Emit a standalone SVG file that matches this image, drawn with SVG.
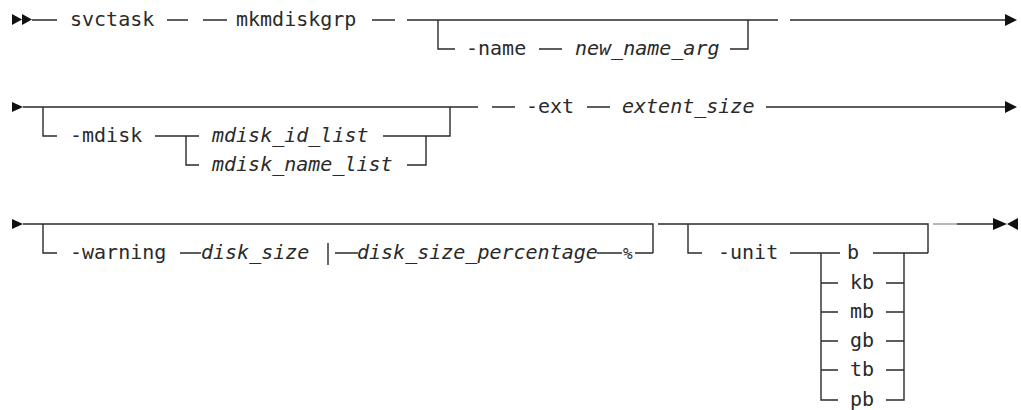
<svg xmlns="http://www.w3.org/2000/svg" width="1021" height="410" viewBox="0 0 1021 410">
  <style>
    .t { font-family: "DejaVu Sans Mono", "Liberation Mono", monospace; font-size: 20px; fill: #2a2a2a; }
    .i { font-style: italic; }
    .ln { fill: none; stroke: #2a2a2a; stroke-width: 1.4; }
    .lt { fill: none; stroke: #999; stroke-width: 1.4; }
    .ah { fill: #111; }
  </style>
  <rect width="1021" height="410" fill="#fff"/>

  <!-- connectors -->
  <g id="connectors">
    <!-- row 1 -->
    <path class="ah" d="M12,14 L22,19.5 L12,25 Z M22,14 L32,19.5 L22,25 Z"/>
    <path class="ln" d="M32,20 H57 M167,20 H188 M203,20 H227 M372,20 H395 M407,20 H778 M790,20 H1006"/>
    <path class="ah" d="M1005,14 L1017,20 L1005,26 Z"/>
    <path class="ln" d="M438,20 V49 H455 M539,49 H562 M730,49 H748 V20"/>

    <!-- row 2 -->
    <path class="ah" d="M12,102 L23,107 L12,112 Z"/>
    <path class="ln" d="M23,107 H478 M492,107 H515 M587,107 H610 M766,107 H1006"/>
    <path class="ah" d="M1005,101 L1017,107 L1005,113 Z"/>
    <path class="ln" d="M43,107 V136 H57 M155,136 H199 M186,136 V165 H199 M383,136 H450 V107 M407,165 H426 V136"/>

    <!-- row 3 -->
    <path class="ah" d="M12,219 L23,224 L12,229 Z"/>
    <path class="ln" d="M23,224 H653 V253 M658,224 H928 V253"/>
    <path class="ln" d="M43,224 V253 H57 M180,253 H201 M328,243 V265 M335,253 H358 M597,253 H622 M635,253 H653"/>
    <path class="ln" d="M688,224 V253 H702 M790,253 H840 M821,253 V400 H838 M873,253 H928 M904,253 V400 H886"/>
    <path class="ln" d="M821,283 H838 M821,312 H838 M821,341 H838 M821,370 H838 M886,283 H904 M886,312 H904 M886,341 H904 M886,370 H904"/>
    <path class="lt" d="M933,224 H957"/>
    <path class="ln" d="M957,224 H994"/>
    <path class="ah" d="M993,218 L1007,224 L993,230 Z M1018,218 L1007,224 L1018,230 Z"/>
  </g>

  <!-- row 1 nodes -->
  <g id="svctask"><text class="t" x="70" y="26">svctask</text></g>
  <g id="mkmdiskgrp"><text class="t" x="236" y="26">mkmdiskgrp</text></g>
  <g id="name"><text class="t" x="466" y="55">-name</text></g>
  <g id="new_name_arg"><text class="t i" x="575" y="55">new_name_arg</text></g>

  <!-- row 2 nodes -->
  <g id="mdisk"><text class="t" x="70" y="142">-mdisk</text></g>
  <g id="mdisk_id_list"><text class="t i" x="212" y="142">mdisk_id_list</text></g>
  <g id="mdisk_name_list"><text class="t i" x="212" y="171">mdisk_name_list</text></g>
  <g id="ext"><text class="t" x="526" y="113">-ext</text></g>
  <g id="extent_size"><text class="t i" x="622" y="113">extent_size</text></g>

  <!-- row 3 nodes -->
  <g id="warning"><text class="t" x="70" y="259">-warning</text></g>
  <g id="disk_size"><text class="t i" x="201" y="259">disk_size</text></g>
  <g id="disk_size_percentage"><text class="t i" x="357" y="259">disk_size_percentage</text></g>
  <g id="percent"><text class="t i" x="623" y="259" style="font-size:16px">%</text></g>
  <g id="unit"><text class="t" x="718" y="259">-unit</text></g>
  <g id="unit_values" class="t">
    <text x="847" y="259">b</text>
    <text x="850" y="289">kb</text>
    <text x="850" y="318">mb</text>
    <text x="850" y="347">gb</text>
    <text x="850" y="376">tb</text>
    <text x="850" y="406">pb</text>
  </g>
</svg>
